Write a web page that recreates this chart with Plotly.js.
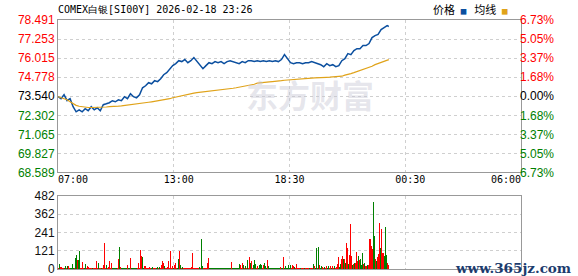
<!DOCTYPE html>
<html>
<head>
<meta charset="utf-8">
<script src="https://cdn.plot.ly/plotly-3.0.1.min.js"></script>
<style>
html,body{margin:0;padding:0;background:#fff;}
#chart{width:578px;height:276px;}
</style>
</head>
<body>
<div id="chart"></div>
<script>
// ---------------- data ----------------
const chartTitle = 'COMEX白银[SI00Y] 2026-02-18 23:26';
const basePrice = 73.540;
const priceTicks = [68.589, 69.827, 71.065, 72.302, 73.540, 74.778, 76.015, 77.253, 78.491];
const xLabels = ['07:00', '13:00', '18:30', '00:30', '06:00'];
const xLabelTimes = [0, 360, 690, 1050, 1380];        // minutes after 07:00
const sessionMinutes = 1380;                            // 07:00 -> 06:00
const volTicks = [0, 121, 241, 362, 482];

// price (sampled every 9 minutes from 07:00) and last tick at 23:26
const priceStep = 9;
const lastTime = 986;
const priceValues = [
 73.51,73.38,73.64,73.25,73.38,72.86,72.53,72.66,72.53,72.73,
 72.60,72.86,72.66,72.79,72.60,72.99,73.05,73.12,73.25,73.18,
 73.31,73.25,73.51,73.38,73.70,73.51,73.44,73.64,74.09,74.22,
 74.42,74.35,74.55,74.49,74.68,74.94,75.07,75.27,75.53,75.66,
 75.85,75.79,75.92,75.72,75.85,76.05,75.79,75.53,75.33,75.53,
 75.72,75.66,75.79,75.72,75.79,75.66,75.79,75.85,75.79,75.72,
 75.66,75.79,75.72,75.85,75.85,75.79,75.85,75.79,75.85,75.79,
 75.85,75.79,75.85,75.79,75.92,76.24,75.98,75.72,75.66,75.72,
 75.72,75.66,75.72,75.72,75.79,75.72,75.66,75.59,75.46,75.66,
 75.53,75.59,75.46,75.53,75.85,75.98,76.31,76.24,76.50,76.63,
 76.63,76.83,76.83,76.96,77.35,77.48,77.55,77.87,78.00,78.13,
 78.07
];
const avgValues = [
 73.51,73.44,73.38,73.31,73.18,73.05,72.95,72.89,72.86,72.81,
 72.81,72.81,72.81,72.81,72.81,72.82,72.84,72.86,72.86,72.88,
 72.90,72.92,72.94,72.97,72.99,73.01,73.03,73.05,73.10,73.12,
 73.15,73.18,73.21,73.25,73.28,73.31,73.35,73.38,73.44,73.49,
 73.54,73.57,73.61,73.64,73.70,73.74,73.77,73.79,73.81,73.83,
 73.85,73.88,73.90,73.92,73.94,73.96,74.00,74.03,74.06,74.09,
 74.13,74.16,74.19,74.22,74.29,74.32,74.39,74.42,74.44,74.45,
 74.47,74.49,74.50,74.52,74.55,74.58,74.60,74.62,74.63,74.65,
 74.66,74.68,74.69,74.71,74.72,74.73,74.73,74.75,74.76,74.77,
 74.78,74.80,74.81,74.82,74.84,74.91,74.94,75.01,75.07,75.14,
 75.17,75.27,75.33,75.43,75.49,75.59,75.66,75.72,75.79,75.85,
 75.92
];

// volume, one bar every 3 minutes from 07:00
const volStep = 3;
const volValues = [
 6,31,13,13,8,6,6,18,6,18,
 18,6,8,8,35,6,6,70,90,61,
 59,116,6,6,44,6,6,35,6,18,
 13,6,5,5,5,5,5,6,50,6,
 37,6,5,6,6,24,169,6,24,6,
 13,50,6,37,6,5,5,5,5,6,
 64,143,11,6,5,5,5,5,6,24,
 5,5,70,5,5,5,5,5,5,6,
 37,5,123,83,79,8,18,18,6,6,
 5,10,5,5,10,5,5,5,5,10,
 5,10,6,24,50,37,22,6,5,10,
 50,6,116,6,18,6,26,37,6,6,
 64,116,24,6,10,5,5,5,5,5,
 5,5,5,10,103,5,5,5,5,5,
 5,10,5,196,18,5,5,5,6,37,
 70,5,5,5,5,5,5,5,5,5,
 5,5,5,5,5,5,5,5,5,
 5,5,5,44,5,5,5,5,5,5,
 5,33,29,6,42,24,6,20,6,61,
 6,77,37,55,6,24,57,33,6,20,
 6,29,33,29,6,24,37,22,6,57,
 18,5,5,5,5,5,5,5,5,5,
 5,5,11,5,5,77,5,18,5,5,
 24,5,24,5,24,20,15,5,31,5,
 5,5,5,5,5,5,5,5,5,
 5,5,5,5,5,5,31,18,6,136,
 6,143,24,6,18,15,6,13,6,18,
 6,20,6,18,6,20,6,18,6,10,
 31,77,10,31,68,86,68,64,37,169,
 140,35,92,300,86,29,35,42,37,114,
 53,83,61,68,29,103,33,37,20,29,
 26,196,196,151,130,440,217,64,55,81,
 97,301,136,261,108,103,86,277,90,37,
 26
];
// r = up (red), g = down (green)
const volDirs = [
 'rgrrrrggrg','rrggggrggr','ggrrrrggrr','rrrrgrrrrr','grrgrrrrgr',
 'rrrrgggggr','rgrggggggr','ggrggggggr','rrrrggrrrr','rrrggrrrgg',
 'rgrrrrgrrr','rrrrrgrrrg','grgrgrrrrr','rrrrrrrrrr','rgrggrrrrr',
 'rggggggggg','ggggggggg','gggrgggggg','ggrrrgrgrg','rrgrrgggrr',
 'ggggrrgggr','gggggggggg','ggrggrgggg','gggrrrgrrr','rrgrrrgrr',
 'rrgrrrgrgg','rgrggrrgrr','ggrrgrrgrr','rrggrrgrgr','rgrrrgrgrr',
 'rgrgggrgrg','rrrrrggrgr','rrgrrrgggr','r'
].join('').split('');

// ---------------- styles ----------------
const RED = '#ff0000', GREEN = '#008000', DARK = '#000000';
const PRICE_COLOR = '#0b4f9f', AVG_COLOR = '#e0a31a';
const GRID = '#cfcfcf', FRAME = '#999999';
const W = 578, H = 276;
const M = {l: 58, r: 57, t: 20, b: 7};
const plotW = W - M.l - M.r;
const plotH = H - M.t - M.b;
const pxX = px => (px - M.l) / plotW;          // paper x from page pixel
const pxY = py => 1 - (py - M.t) / plotH;      // paper y from page pixel

const priceTimes = priceValues.map((_, i) => i < priceValues.length - 1 ? i * priceStep : lastTime);
const volTimes = volValues.map((_, i) => i * volStep);
const volColors = volDirs.map(d => d === 'r' ? RED : GREEN);

function colorFor(v) { return Math.abs(v - basePrice) < 1e-9 ? DARK : (v > basePrice ? RED : GREEN); }
const leftText = priceTicks.map(v => `<span style="color:${colorFor(v)}">${v.toFixed(3)}</span>`);
const rightText = priceTicks.map(v => `<span style="color:${colorFor(v)}">${Math.abs((v / basePrice - 1) * 100).toFixed(2)}%</span>`);

const quarterGrid = [1, 2, 3].map(q => sessionMinutes * q / 4);
const minPerPx = sessionMinutes / plotW;
const halfLabel = 15 * minPerPx;
const xLabelPos = xLabelTimes.map(t => Math.min(Math.max(t, halfLabel), sessionMinutes - halfLabel));

const yFont = {family: 'Liberation Sans, Arial, sans-serif', size: 12, color: DARK};
const monoFont = {family: 'DejaVu Sans Mono, monospace', size: 10, color: '#000'};
const NB = '\u00a0';

const traces = [
  {type: 'scatter', mode: 'lines', x: priceTimes, y: priceValues, xaxis: 'x', yaxis: 'y',
   line: {color: PRICE_COLOR, width: 1.5}, hoverinfo: 'skip'},
  {type: 'scatter', mode: 'lines', x: priceTimes, y: avgValues, xaxis: 'x3', yaxis: 'y3',
   line: {color: AVG_COLOR, width: 1.2}, hoverinfo: 'skip'},
  {type: 'bar', x: volTimes, y: volValues, xaxis: 'x2', yaxis: 'y2',
   marker: {color: volColors, line: {width: 0}}, width: volStep, hoverinfo: 'skip'}
];

const frame = {showline: true, mirror: true, linecolor: FRAME, linewidth: 1, zeroline: false};
const layout = {
  width: W, height: H,
  margin: M,
  paper_bgcolor: '#fff', plot_bgcolor: '#fff',
  showlegend: false, hovermode: false,
  title: {text: chartTitle, font: monoFont, x: 0, xref: 'paper', xanchor: 'left',
          y: 1 - 9 / H, yref: 'container', yanchor: 'middle'},
  xaxis: Object.assign({}, frame, {anchor: 'y', range: [0, sessionMinutes], tickmode: 'array',
          tickvals: quarterGrid, showticklabels: false, ticks: '',
          showgrid: true, gridcolor: GRID, griddash: '3px,3px', gridwidth: 1}),
  xaxis3: {overlaying: 'x', anchor: 'y', side: 'bottom', range: [0, sessionMinutes], tickmode: 'array',
          tickvals: xLabelPos, ticktext: xLabels, showgrid: false, showline: false, zeroline: false,
          ticks: '', tickfont: monoFont, ticklabeloverflow: 'allow'},
  yaxis: Object.assign({}, frame, {domain: [0.3876, 1], anchor: 'x', range: [priceTicks[0], priceTicks[priceTicks.length - 1]],
          tickmode: 'array', tickvals: priceTicks, ticktext: leftText, ticks: '', tickfont: yFont,
          ticklabeloverflow: 'allow',
          showgrid: true, gridcolor: GRID, griddash: '3px,3px', gridwidth: 1}),
  yaxis3: {overlaying: 'y', anchor: 'x3', side: 'right', range: [priceTicks[0], priceTicks[priceTicks.length - 1]],
          tickmode: 'array', tickvals: priceTicks, ticktext: rightText, ticks: '', tickfont: yFont,
          ticklabeloverflow: 'allow',
          showgrid: false, showline: false, zeroline: false, ticklabelstandoff: -2},
  xaxis2: Object.assign({}, frame, {anchor: 'y2', range: [0, sessionMinutes], tickmode: 'array',
          tickvals: quarterGrid, showticklabels: false, ticks: '',
          showgrid: true, gridcolor: GRID, griddash: '3px,3px', gridwidth: 1}),
  yaxis2: Object.assign({}, frame, {domain: [0, 0.2932], anchor: 'x2', range: [0, volTicks[volTicks.length - 1]],
          tickmode: 'array', tickvals: volTicks, ticktext: volTicks.map(String), ticks: '',
          tickfont: {family: yFont.family, size: 12, color: '#111'}, ticklabeloverflow: 'allow',
          showgrid: true, gridcolor: GRID, griddash: '3px,3px', gridwidth: 1}),
  bargap: 0,
  annotations: [
    {xref: 'paper', yref: 'paper', x: pxX(431), y: pxY(9),
     xanchor: 'left', yanchor: 'middle', showarrow: false,
     text: '价格' + NB + NB + '<span style="color:' + PRICE_COLOR + ';font-size:7px">■</span>' + NB + NB + NB +
           '均线' + NB + NB + '<span style="color:' + AVG_COLOR + ';font-size:7px">■</span>',
     font: {family: 'Noto Sans CJK SC, sans-serif', size: 11, color: '#000'}},
    {xref: 'paper', yref: 'paper', x: pxX(310), y: pxY(94), xanchor: 'center', yanchor: 'middle', showarrow: false,
     text: '<b>东方财富</b>', font: {family: 'Noto Sans CJK SC, sans-serif', size: 32, color: 'rgba(200,200,212,0.45)'}},
    {xref: 'paper', yref: 'paper', x: pxX(573), y: pxY(268), xanchor: 'right', yanchor: 'middle', showarrow: false,
     text: '<b>www.365jz.com</b>', font: {family: 'DejaVu Serif, serif', size: 13.5, color: '#1c3c6e'}}
  ]
};

Plotly.newPlot('chart', traces, layout, {staticPlot: true, displayModeBar: false});
</script>
</body>
</html>
